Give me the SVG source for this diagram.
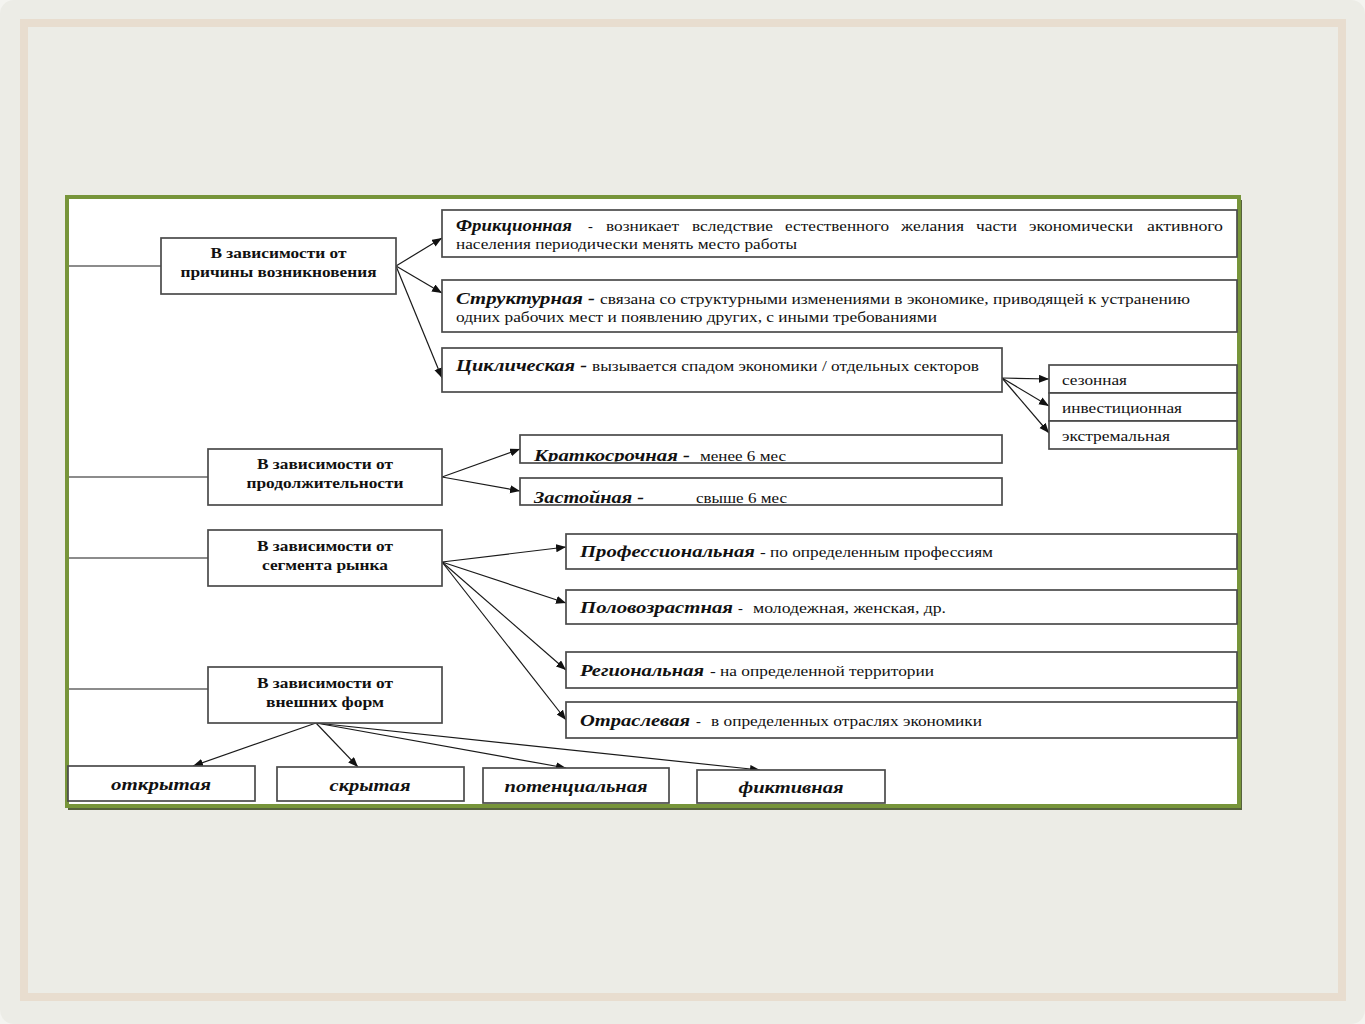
<svg xmlns="http://www.w3.org/2000/svg" width="1365" height="1024" viewBox="0 0 1365 1024">
<defs>
<style>
.box{fill:#ffffff;stroke:#4a4a4a;stroke-width:1.7}
.cat{font-family:"Liberation Serif","Times New Roman",serif;font-weight:bold;font-size:15.5px;fill:#111;text-anchor:middle}
.nm{font-family:"Liberation Serif","Times New Roman",serif;font-weight:bold;font-style:italic;font-size:17px;fill:#111}
.ds{font-family:"Liberation Serif","Times New Roman",serif;font-size:14.5px;fill:#111}
.bt{font-family:"Liberation Serif","Times New Roman",serif;font-weight:bold;font-style:italic;font-size:17px;fill:#111;text-anchor:middle}
.ln{fill:none;stroke:#1a1a1a;stroke-width:1.2}
.ar{fill:none;stroke:#1a1a1a;stroke-width:1.2;marker-end:url(#ah)}
</style>
<marker id="ah" markerUnits="userSpaceOnUse" markerWidth="11" markerHeight="9" refX="10" refY="4" orient="auto">
<path d="M0,0 L10,4 L0,8 z" fill="#111"/>
</marker>
<clipPath id="c1"><rect x="521" y="436" width="480" height="25.5"/></clipPath>
<clipPath id="c2"><rect x="521" y="479" width="480" height="24.5"/></clipPath>
</defs>

<!-- slide background -->
<rect x="0" y="0" width="1365" height="1024" fill="#f4f4f0"/>
<rect x="0" y="0" width="1365" height="1024" rx="14" fill="#ecece6"/>
<rect x="24" y="23" width="1318" height="974" fill="none" stroke="#e8ddcf" stroke-width="8"/>

<!-- picture frame -->
<rect x="68" y="200" width="1174" height="610" fill="#56623e"/>
<rect x="67" y="197" width="1172" height="609" fill="#ffffff" stroke="#77953a" stroke-width="4"/>

<g id="connectors">
<path class="ln" d="M69,266 H161"/>
<path class="ln" d="M69,477 H208"/>
<path class="ln" d="M69,558 H208"/>
<path class="ln" d="M69,689 H208"/>
<path class="ar" d="M396,266 L442,238"/>
<path class="ar" d="M396,266 L442,293"/>
<path class="ar" d="M396,266 L442,378"/>
<path class="ar" d="M1002,378 L1049,379"/>
<path class="ar" d="M1002,378 L1049,406"/>
<path class="ar" d="M1002,378 L1049,433"/>
<path class="ar" d="M442,477 L520,449"/>
<path class="ar" d="M442,477 L520,491"/>
<path class="ar" d="M442,562 L566,547"/>
<path class="ar" d="M442,562 L566,603"/>
<path class="ar" d="M442,562 L566,670"/>
<path class="ar" d="M442,562 L566,720"/>
<path class="ar" d="M316,723 L193,766"/>
<path class="ar" d="M316,723 L358,767"/>
<path class="ar" d="M316,723 L566,768"/>
<path class="ar" d="M316,723 L760,770"/>
</g>

<g id="cat-cause">
<rect class="box" x="161" y="238" width="235" height="56"/>
<text class="cat" x="278.5" y="258" textLength="136" lengthAdjust="spacingAndGlyphs">В зависимости от</text>
<text class="cat" x="278.5" y="277" textLength="196" lengthAdjust="spacingAndGlyphs">причины возникновения</text>
</g>

<g id="frictional">
<rect class="box" x="442" y="210" width="795" height="47"/>
<text class="nm" x="456" y="231" font-size="16" textLength="116" lengthAdjust="spacingAndGlyphs">Фрикционная</text>
<text class="ds" x="588" y="231">-</text>
<text class="ds" x="606" y="231" textLength="73" lengthAdjust="spacingAndGlyphs">возникает</text>
<text class="ds" x="692" y="231" textLength="81" lengthAdjust="spacingAndGlyphs">вследствие</text>
<text class="ds" x="785" y="231" textLength="104" lengthAdjust="spacingAndGlyphs">естественного</text>
<text class="ds" x="901" y="231" textLength="63" lengthAdjust="spacingAndGlyphs">желания</text>
<text class="ds" x="976" y="231" textLength="41" lengthAdjust="spacingAndGlyphs">части</text>
<text class="ds" x="1029" y="231" textLength="104" lengthAdjust="spacingAndGlyphs">экономически</text>
<text class="ds" x="1147" y="231" textLength="76" lengthAdjust="spacingAndGlyphs">активного</text>
<text class="ds" x="456" y="249" textLength="341" lengthAdjust="spacingAndGlyphs">населения периодически менять место работы</text>
</g>

<g id="structural">
<rect class="box" x="442" y="280" width="795" height="52"/>
<text class="nm" x="456" y="304" font-size="18" textLength="139" lengthAdjust="spacingAndGlyphs">Структурная -</text>
<text class="ds" x="600" y="304" textLength="590" lengthAdjust="spacingAndGlyphs">связана со структурными изменениями в экономике, приводящей к устранению</text>
<text class="ds" x="456" y="322" textLength="481" lengthAdjust="spacingAndGlyphs">одних рабочих мест и появлению других, с иными требованиями</text>
</g>

<g id="cyclical">
<rect class="box" x="442" y="348" width="560" height="44"/>
<text class="nm" x="456" y="371" font-size="17.5" textLength="131" lengthAdjust="spacingAndGlyphs">Циклическая -</text>
<text class="ds" x="592" y="371" textLength="387" lengthAdjust="spacingAndGlyphs">вызывается спадом экономики / отдельных секторов</text>
</g>

<g id="seasonal">
<rect class="box" x="1049" y="365" width="188" height="28"/>
<text class="ds" x="1062" y="385" textLength="65" lengthAdjust="spacingAndGlyphs">сезонная</text>
</g>
<g id="investment">
<rect class="box" x="1049" y="393" width="188" height="28"/>
<text class="ds" x="1062" y="413" textLength="120" lengthAdjust="spacingAndGlyphs">инвестиционная</text>
</g>
<g id="extreme">
<rect class="box" x="1049" y="421" width="188" height="28"/>
<text class="ds" x="1062" y="441" textLength="108" lengthAdjust="spacingAndGlyphs">экстремальная</text>
</g>

<g id="cat-duration">
<rect class="box" x="208" y="449" width="234" height="56"/>
<text class="cat" x="325" y="469" textLength="136" lengthAdjust="spacingAndGlyphs">В зависимости от</text>
<text class="cat" x="325" y="488" textLength="157" lengthAdjust="spacingAndGlyphs">продолжительности</text>
</g>

<g id="short-term">
<rect class="box" x="520" y="435" width="482" height="28"/>
<g clip-path="url(#c1)">
<text class="nm" x="534" y="460.5" textLength="156" lengthAdjust="spacingAndGlyphs">Краткосрочная -</text>
<text class="ds" x="700" y="460.5" textLength="86" lengthAdjust="spacingAndGlyphs">менее 6 мес</text>
</g>
</g>

<g id="stagnant">
<rect class="box" x="520" y="478" width="482" height="27"/>
<g clip-path="url(#c2)">
<text class="nm" x="534" y="503" textLength="110" lengthAdjust="spacingAndGlyphs">Застойная -</text>
<text class="ds" x="696" y="503" textLength="91" lengthAdjust="spacingAndGlyphs">свыше 6 мес</text>
</g>
</g>

<g id="cat-segment">
<rect class="box" x="208" y="530" width="234" height="56"/>
<text class="cat" x="325" y="551" textLength="136" lengthAdjust="spacingAndGlyphs">В зависимости от</text>
<text class="cat" x="325" y="570" textLength="126" lengthAdjust="spacingAndGlyphs">сегмента рынка</text>
</g>

<g id="professional">
<rect class="box" x="566" y="534" width="671" height="35"/>
<text class="nm" x="580" y="557" textLength="175" lengthAdjust="spacingAndGlyphs">Профессиональная</text>
<text class="ds" x="760" y="557" textLength="233" lengthAdjust="spacingAndGlyphs">- по определенным профессиям</text>
</g>

<g id="age-sex">
<rect class="box" x="566" y="590" width="671" height="34"/>
<text class="nm" x="580" y="613" textLength="153" lengthAdjust="spacingAndGlyphs">Половозрастная</text>
<text class="ds" x="738" y="613">-</text>
<text class="ds" x="753" y="613" textLength="193" lengthAdjust="spacingAndGlyphs">молодежная,  женская, др.</text>
</g>

<g id="regional">
<rect class="box" x="566" y="652" width="671" height="36"/>
<text class="nm" x="580" y="676" textLength="124" lengthAdjust="spacingAndGlyphs">Региональная</text>
<text class="ds" x="710" y="676" textLength="224" lengthAdjust="spacingAndGlyphs">- на определенной территории</text>
</g>

<g id="sectoral">
<rect class="box" x="566" y="702" width="671" height="36"/>
<text class="nm" x="580" y="726" textLength="110" lengthAdjust="spacingAndGlyphs">Отраслевая</text>
<text class="ds" x="696" y="726">-</text>
<text class="ds" x="711" y="726" textLength="271" lengthAdjust="spacingAndGlyphs">в определенных отраслях экономики</text>
</g>

<g id="cat-forms">
<rect class="box" x="208" y="667" width="234" height="56"/>
<text class="cat" x="325" y="688" textLength="136" lengthAdjust="spacingAndGlyphs">В зависимости от</text>
<text class="cat" x="325" y="707" textLength="118" lengthAdjust="spacingAndGlyphs">внешних форм</text>
</g>

<g id="open">
<rect class="box" x="68" y="766" width="187" height="35"/>
<text class="bt" x="161" y="790" textLength="100" lengthAdjust="spacingAndGlyphs">открытая</text>
</g>
<g id="hidden">
<rect class="box" x="277" y="767" width="187" height="34"/>
<text class="bt" x="370" y="791" textLength="81" lengthAdjust="spacingAndGlyphs">скрытая</text>
</g>
<g id="potential">
<rect class="box" x="483" y="768" width="186" height="35"/>
<text class="bt" x="576" y="792" textLength="143" lengthAdjust="spacingAndGlyphs">потенциальная</text>
</g>
<g id="fictive">
<rect class="box" x="697" y="770" width="188" height="33"/>
<text class="bt" x="791" y="793" textLength="105" lengthAdjust="spacingAndGlyphs">фиктивная</text>
</g>
</svg>
